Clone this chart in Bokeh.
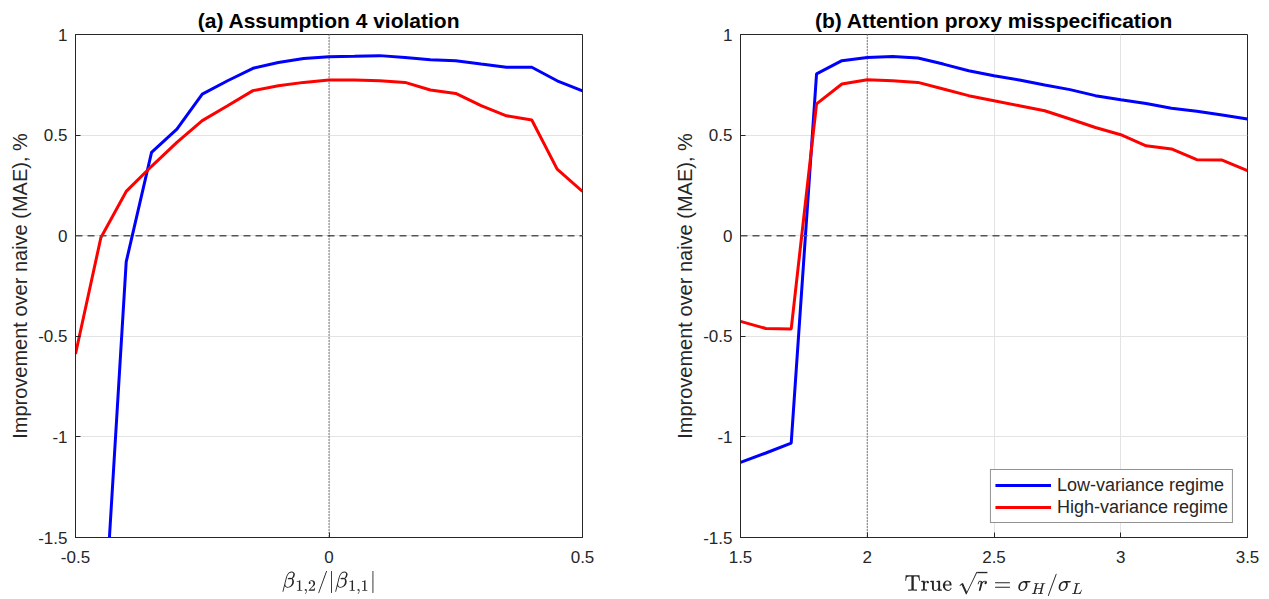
from bokeh.plotting import figure
from bokeh.layouts import row
from bokeh.models import Range1d, FixedTicker, Span, Legend, LegendItem
from bokeh.embed import file_html
from bokeh.resources import INLINE

# Panel (a)
beta_ratio = [-0.5, -0.45, -0.4, -0.35, -0.3, -0.25, -0.2, -0.15, -0.1, -0.05, 0.0,
              0.05, 0.1, 0.15, 0.2, 0.25, 0.3, 0.35, 0.4, 0.45, 0.5]
a_low = [-3.0, -2.2, -0.13, 0.414, 0.53, 0.704, 0.77, 0.832, 0.861, 0.881, 0.89,
         0.892, 0.895, 0.886, 0.875, 0.87, 0.853, 0.837, 0.837, 0.77, 0.72]
a_high = [-0.588, -0.01, 0.22, 0.345, 0.464, 0.572, 0.646, 0.721, 0.745, 0.762, 0.774,
          0.774, 0.77, 0.762, 0.724, 0.707, 0.646, 0.596, 0.575, 0.331, 0.22]

# Panel (b)
sqrt_r = [1.5, 1.6, 1.7, 1.8, 1.9, 2.0, 2.1, 2.2, 2.3, 2.4, 2.5,
          2.6, 2.7, 2.8, 2.9, 3.0, 3.1, 3.2, 3.3, 3.4, 3.5]
b_low = [-1.127, -1.08, -1.031, 0.804, 0.87, 0.886, 0.891, 0.883, 0.853, 0.82, 0.795,
         0.774, 0.749, 0.726, 0.696, 0.676, 0.657, 0.633, 0.618, 0.6, 0.58]
b_high = [-0.426, -0.461, -0.464, 0.655, 0.754, 0.775, 0.77, 0.762, 0.729, 0.696, 0.671,
          0.646, 0.621, 0.58, 0.538, 0.502, 0.447, 0.431, 0.378, 0.376, 0.323]

y_ticks = [-1.5, -1, -0.5, 0, 0.5, 1]
y_tick_labels = ["-1.5", "-1", "-0.5", "0", "0.5", "1"]
a_x_ticks = [-0.5, 0, 0.5]
a_x_tick_labels = ["-0.5", "0", "0.5"]
b_x_ticks = [1.5, 2, 2.5, 3, 3.5]
b_x_tick_labels = ["1.5", "2", "2.5", "3", "3.5"]

FONT = "Liberation Sans"
AX = "#262626"
BLUE = "#0000ff"
RED = "#ff0000"


def make_fig(title, xr, xt, xtl, xlabel, ml, mr):
    p = figure(frame_width=507, frame_height=503, min_border_left=ml, min_border_right=mr,
               min_border_top=34, min_border_bottom=62,
               x_range=Range1d(*xr), y_range=Range1d(-1.5, 1),
               output_backend="svg", toolbar_location=None, title=title)
    p.title.text_font = FONT
    p.title.text_font_size = "21px"
    p.title.text_font_style = "bold"
    p.title.align = "center"
    p.title.text_color = "black"
    p.title.standoff = 6
    p.outline_line_color = AX
    p.outline_line_width = 1
    p.xaxis.ticker = FixedTicker(ticks=xt)
    p.xaxis.major_label_overrides = {t: l for t, l in zip(xt, xtl)}
    p.yaxis.ticker = FixedTicker(ticks=y_ticks)
    p.yaxis.major_label_overrides = {t: l for t, l in zip(y_ticks, y_tick_labels)}
    for ax in (p.xaxis, p.yaxis):
        ax.axis_line_color = AX
        ax.major_tick_line_color = AX
        ax.major_tick_in = 5
        ax.major_tick_out = 0
        ax.minor_tick_line_color = None
        ax.major_label_text_font = FONT
        ax.major_label_text_font_size = "17px"
        ax.major_label_text_color = AX
        ax.axis_label_text_font = FONT
        ax.axis_label_text_font_size = "20px"
        ax.axis_label_text_font_style = "normal"
        ax.axis_label_text_color = AX
    p.xaxis.axis_label = xlabel
    p.xaxis.axis_label_text_font_size = "18px"
    p.yaxis.axis_label = "Improvement over naive (MAE), %"
    p.xaxis.major_label_standoff = 13
    p.yaxis.major_label_standoff = 8
    p.xaxis.axis_label_standoff = 5
    p.yaxis.axis_label_standoff = 4
    p.grid.grid_line_color = "#e3e3e3"
    p.grid.grid_line_width = 1
    p.add_layout(Span(location=0, dimension="width", line_color="#555555",
                      line_dash="7 5", line_width=1.5))
    return p


p1 = make_fig("(a) Assumption 4 violation", (-0.5, 0.5), a_x_ticks, a_x_tick_labels,
              r"$$\beta_{1,2}/|\beta_{1,1}|$$", 75, 52)
p1.add_layout(Span(location=0, dimension="height", line_color="#333333",
                   line_dash="1 2", line_width=1.2))
p1.line(beta_ratio, a_low, line_color=BLUE, line_width=3)
p1.line(beta_ratio, a_high, line_color=RED, line_width=3)

p2 = make_fig("(b) Attention proxy misspecification", (1.5, 3.5), b_x_ticks, b_x_tick_labels,
              r"$$\text{True }\sqrt{r} = \sigma_H/\sigma_L$$", 106, 22)
p2.add_layout(Span(location=2, dimension="height", line_color="#333333",
                   line_dash="1 2", line_width=1.2))
l1 = p2.line(sqrt_r, b_low, line_color=BLUE, line_width=3)
l2 = p2.line(sqrt_r, b_high, line_color=RED, line_width=3)

legend = Legend(items=[LegendItem(label="Low-variance regime", renderers=[l1]),
                       LegendItem(label="High-variance regime", renderers=[l2])],
                location="bottom_right")
legend.margin = 14
legend.padding = 4
legend.spacing = 0
legend.label_text_font = FONT
legend.label_text_font_size = "18px"
legend.label_text_color = AX
legend.label_standoff = 6
legend.glyph_width = 56
legend.label_height = 22
legend.glyph_height = 22
legend.border_line_color = AX
legend.border_line_width = 1
legend.background_fill_alpha = 1
p2.add_layout(legend)

layout = row(p1, p2)
open("out.html", "w").write(file_html(layout, INLINE))
